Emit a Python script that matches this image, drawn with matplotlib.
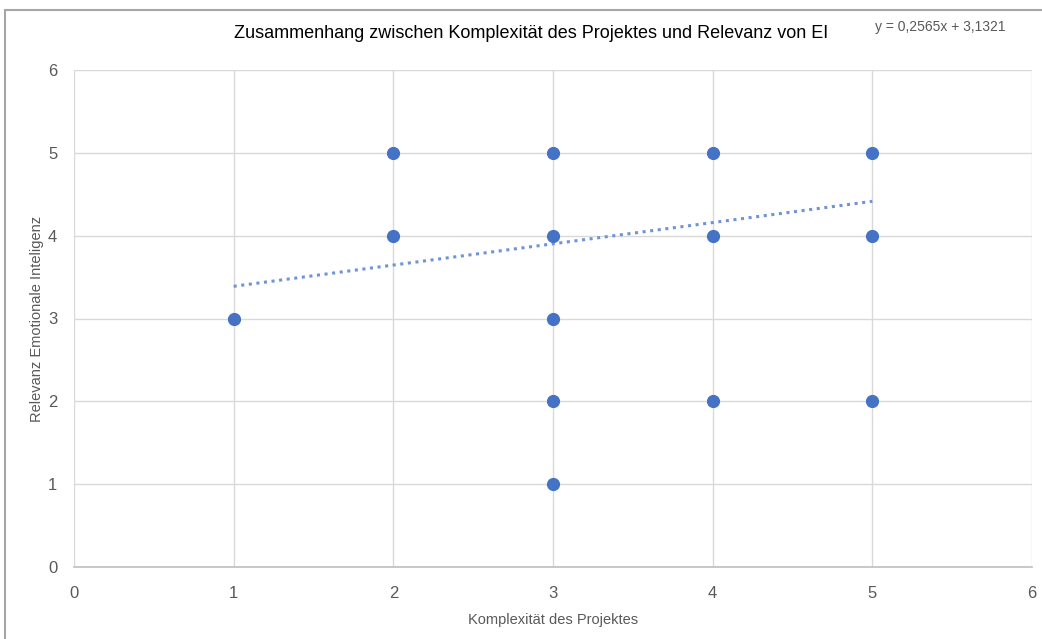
import matplotlib
matplotlib.use('Agg')
import matplotlib.pyplot as plt
from matplotlib.patches import Rectangle

# data
komplexitaet = [1, 2, 2, 3, 3, 3, 3, 3, 4, 4, 4, 5, 5, 5]
relevanz = [3, 5, 4, 5, 4, 3, 2, 1, 5, 4, 2, 5, 4, 2]
slope = 0.2565
intercept = 3.1321
trend_x = [1, 5]
ticks = [0, 1, 2, 3, 4, 5, 6]

plt.rcParams['font.family'] = ['Liberation Sans', 'DejaVu Sans']

fig = plt.figure(figsize=(10.42, 6.39), dpi=100)
ax = fig.add_axes([74/1042, 1 - 567/639, (1032-74)/1042, (567-70)/639])

trend_y = [slope * x + intercept for x in trend_x]
ax.plot(trend_x, trend_y, linestyle=(0, (1, 1.5)), color='#6f94d4', lw=2.2, zorder=2)
ax.plot(komplexitaet, relevanz, 'o', color='#4472C4', markersize=8.5, zorder=3, clip_on=False)

ax.set_xlim(0, 6)
ax.set_ylim(0, 6)
ax.set_xticks(ticks)
ax.set_yticks(ticks)
ax.grid(True, color='#d9d9d9', lw=1)
ax.set_axisbelow(True)
for s in ['top', 'right', 'left']:
    ax.spines[s].set_visible(False)
ax.spines['bottom'].set_color('#bfbfbf')
ax.spines['bottom'].set_linewidth(1.2)
ax.tick_params(length=0, labelsize=12, colors='#595959', pad=14)
ax.tick_params(axis='y', pad=12)

ax.set_xlabel('Komplexität des Projektes', fontsize=10.5, color='#595959', labelpad=8)
ax.set_ylabel('Relevanz Emotionale Inteligenz', fontsize=10.5, color='#595959', labelpad=0)
ax.yaxis.set_label_coords(-30/958, 0.5)

fig.text(531/1042, 1 - 33/639, 'Zusammenhang zwischen Komplexität des Projektes und Relevanz von EI',
         ha='center', va='center', fontsize=13, color='#000000')
fig.text(940/1042, 1 - 27/639, 'y = 0,2565x + 3,1321', ha='center', va='center',
         fontsize=10, color='#595959')

fig.patches.append(Rectangle((5/1042, -0.1), 1.2, 1 - 10/639 + 0.1, transform=fig.transFigure,
                             fill=False, edgecolor='#a6a6a6', lw=1.5))

fig.savefig('out.png', dpi=100)
